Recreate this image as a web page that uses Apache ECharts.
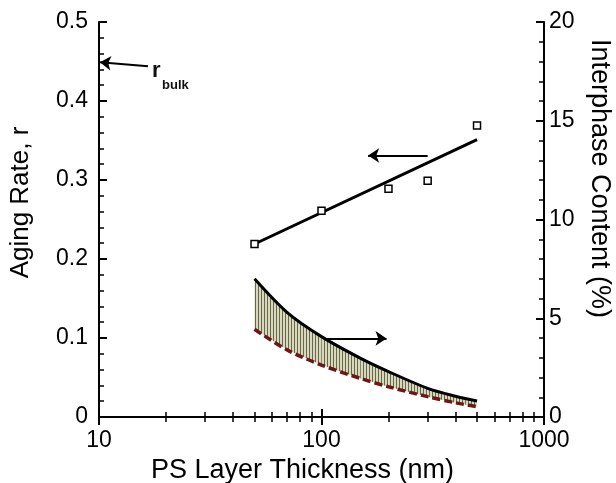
<!DOCTYPE html>
<html><head><meta charset="utf-8">
<script src="https://cdn.jsdelivr.net/npm/echarts@6/dist/echarts.min.js"></script>
<style>html,body{margin:0;padding:0;background:#fff}#c{width:616px;height:483px}</style>
</head><body><div id="c"></div>
<script>
// ---- data ----
const thickness = [50, 100, 200, 300, 500];          // nm
const agingRate = [0.219, 0.261, 0.289, 0.299, 0.369];
const fitX = [50, 500];
const fitR = [0.219, 0.351];
const bandX = [50, 70, 100, 150, 200, 300, 400, 500];
const interphaseUpper = [7.0, 5.3, 4.07, 2.97, 2.3, 1.45, 1.05, 0.81];  // %
const interphaseLower = [4.44, 3.4, 2.63, 1.95, 1.53, 1.03, 0.72, 0.52]; // %
const xTickLabels = ['10', '100', '1000'];
const leftTickLabels = ['0', '0.1', '0.2', '0.3', '0.4', '0.5'];
const rightTickLabels = ['0', '5', '10', '15', '20'];
const arrowLeft = [[300, 0.331], [162, 0.331]];
const arrowRight = [[102.6, 3.98], [196, 3.98]];
const arrowBulk = [[16.6, 0.444], [10.1, 0.449]];
const bulkLabelAt = [[17.3, 0.424], [19.2, 0.411]];

const FONT = '"Liberation Sans", Arial, sans-serif';

// hatch pattern for the band
const pc = document.createElement('canvas');
pc.width = 3; pc.height = 4;
const pctx = pc.getContext('2d');
pctx.fillStyle = '#d8d8bc'; pctx.fillRect(0, 0, 3, 4);
pctx.fillStyle = '#66664a'; pctx.fillRect(0, 0, 1, 4);
const hatch = { image: pc, repeat: 'repeat' };

const segs = [];
for (let i = 0; i < bandX.length - 1; i++) {
  segs.push([bandX[i], interphaseUpper[i], interphaseLower[i], bandX[i+1], interphaseUpper[i+1], interphaseLower[i+1]]);
}

const chart = echarts.init(document.getElementById('c'), null, { renderer: 'canvas' });
const axisLineStyle = { color: '#000', width: 2 };
const arrowML = (pairs) => ({
  silent: true, symbol: ['none', 'arrow'], symbolSize: 11, label: { show: false },
  lineStyle: { color: '#000', width: 2, type: 'solid' },
  emphasis: { disabled: true },
  data: pairs.map(p => [{ coord: p[0] }, { coord: p[1] }])
});
chart.setOption({
  animation: false,
  backgroundColor: '#fff',
  textStyle: { fontFamily: FONT },
  grid: { left: 99, right: 72, top: 22, bottom: 66, outerBoundsMode: 'none', containLabel: false },
  xAxis: [{
    type: 'log', logBase: 10, min: 10, max: 1000, position: 'bottom',
    name: 'PS Layer Thickness (nm)', nameLocation: 'middle', nameGap: 37,
    nameTextStyle: { fontSize: 27, color: '#000', fontFamily: FONT, padding: [0, 38, 0, 0] },
    axisLine: { lineStyle: axisLineStyle },
    axisTick: { inside: true, length: 8, lineStyle: { width: 2, color: '#000' } },
    minorTick: { show: true, splitNumber: 9, length: 5, lineStyle: { width: 1.5, color: '#000' } },
    axisLabel: { fontSize: 23, color: '#000', margin: 12, fontFamily: FONT,
      formatter: v => xTickLabels[Math.round(Math.log10(v)) - 1] },
    splitLine: { show: false }
  }, {
    type: 'log', logBase: 10, min: 10, max: 1000, position: 'top',
    axisLine: { lineStyle: axisLineStyle },
    axisTick: { inside: true, length: 8, lineStyle: { width: 2, color: '#000' } },
    minorTick: { show: true, splitNumber: 9, length: 5, lineStyle: { width: 1.5, color: '#000' } },
    axisLabel: { show: false }, splitLine: { show: false }
  }],
  yAxis: [{
    type: 'value', min: 0, max: 0.5, interval: 0.1, position: 'left',
    name: 'Aging Rate, r', nameLocation: 'middle', nameGap: 65, nameRotate: 90,
    nameTextStyle: { fontSize: 26, color: '#000', fontFamily: FONT, padding: [0, 0, 0, 34] },
    axisLine: { lineStyle: axisLineStyle },
    axisTick: { inside: true, length: 8, lineStyle: { width: 2, color: '#000' } },
    minorTick: { show: true, splitNumber: 5, length: 5, lineStyle: { width: 1.5, color: '#000' } },
    axisLabel: { fontSize: 23, color: '#000', margin: 11, fontFamily: FONT,
      formatter: v => leftTickLabels[Math.round(v * 10)] },
    splitLine: { show: false }
  }, {
    type: 'value', min: 0, max: 20, interval: 5, position: 'right',
    name: 'Interphase Content (%)', nameLocation: 'middle', nameGap: 35, nameRotate: -90,
    nameTextStyle: { fontSize: 27, color: '#000', fontFamily: FONT, padding: [0, 82, 0, 0] },
    axisLine: { lineStyle: axisLineStyle },
    axisTick: { inside: true, length: 8, lineStyle: { width: 2, color: '#000' } },
    minorTick: { show: true, splitNumber: 5, length: 5, lineStyle: { width: 1.5, color: '#000' } },
    axisLabel: { fontSize: 23, color: '#000', margin: 5, fontFamily: FONT,
      formatter: v => rightTickLabels[Math.round(v / 5)] },
    splitLine: { show: false }
  }],
  series: [
    {
      type: 'custom', xAxisIndex: 0, yAxisIndex: 1, silent: true, z: 1,
      encode: { x: [0, 3], y: [1, 2, 4, 5] },
      data: segs,
      renderItem: (params, api) => {
        const a = api.coord([api.value(0), api.value(1)]);
        const b = api.coord([api.value(3), api.value(4)]);
        const c = api.coord([api.value(3), api.value(5)]);
        const d = api.coord([api.value(0), api.value(2)]);
        return { type: 'polygon', shape: { points: [a, b, c, d] }, style: { fill: hatch, stroke: null } };
      }
    },
    {
      type: 'line', xAxisIndex: 0, yAxisIndex: 1, z: 3, symbol: 'none', smooth: 0.3,
      data: bandX.map((x, i) => [x, interphaseLower[i]]),
      lineStyle: { color: '#6e1616', width: 3.5, type: [8, 4] }
    },
    {
      type: 'line', xAxisIndex: 0, yAxisIndex: 1, z: 4, symbol: 'none', smooth: 0.3,
      data: bandX.map((x, i) => [x, interphaseUpper[i]]),
      lineStyle: { color: '#000', width: 3 },
      markLine: arrowML([arrowRight])
    },
    {
      type: 'line', xAxisIndex: 0, yAxisIndex: 0, z: 4, symbol: 'none',
      data: fitX.map((x, i) => [x, fitR[i]]),
      lineStyle: { color: '#000', width: 3 },
      markLine: arrowML([arrowLeft, arrowBulk]),
      markPoint: {
        silent: true, symbol: 'circle', symbolSize: 0,
        data: [
          { coord: bulkLabelAt[0], value: 'r', label: { show: true, formatter: 'r', position: [0, 0], align: 'left', verticalAlign: 'bottom', fontSize: 22, fontWeight: 'bold', color: '#111', fontFamily: FONT } },
          { coord: bulkLabelAt[1], value: 'bulk', label: { show: true, formatter: 'bulk', position: [0, 0], align: 'left', verticalAlign: 'bottom', fontSize: 13, fontWeight: 'bold', color: '#111', fontFamily: FONT } }
        ]
      }
    },
    {
      type: 'scatter', xAxisIndex: 0, yAxisIndex: 0, z: 5, symbol: 'rect', symbolSize: 7,
      data: thickness.map((x, i) => [x, agingRate[i]]),
      itemStyle: { color: '#fff', borderColor: '#000', borderWidth: 1.5, opacity: 1 }
    }
  ]
});
</script></body></html>
